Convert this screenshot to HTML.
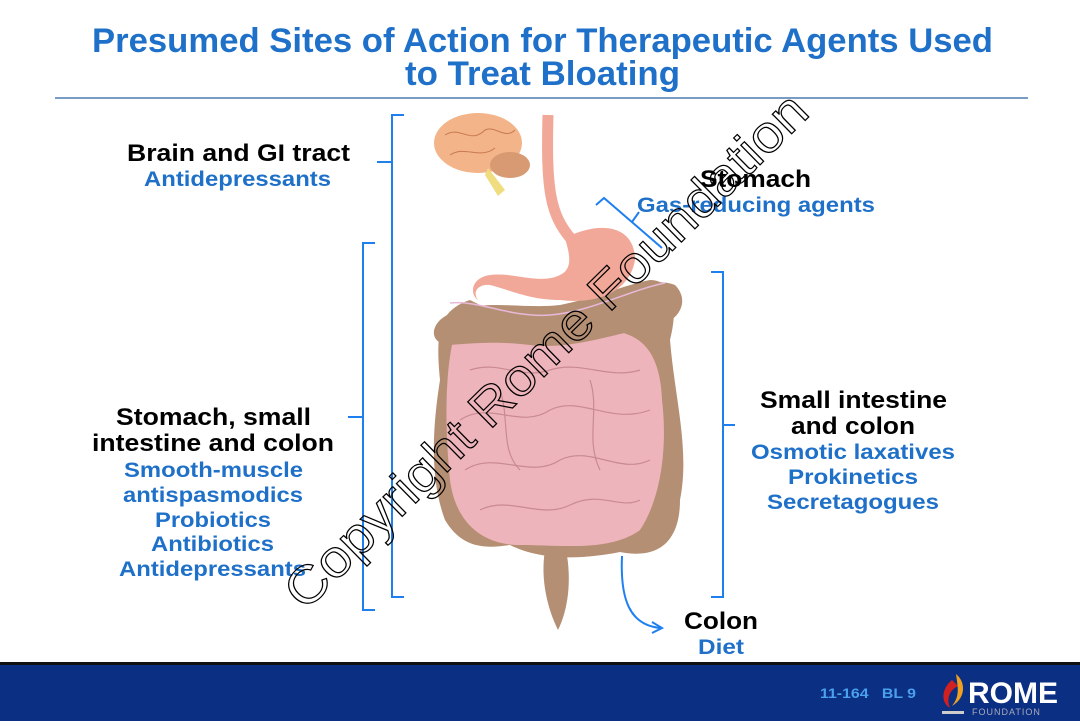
<!DOCTYPE html>
<html><head><meta charset="utf-8"><style>
body{margin:0;width:1080px;height:721px;overflow:hidden;background:#fff;font-family:"Liberation Sans",Arial,sans-serif;}
</style></head><body>
<svg width="1080" height="721" viewBox="0 0 1080 721" xmlns="http://www.w3.org/2000/svg" font-family="Liberation Sans, Arial, sans-serif" font-weight="bold">
<g lengthAdjust="spacingAndGlyphs">
<text x="92" y="52" font-size="34" fill="#1e70c8" textLength="901" lengthAdjust="spacingAndGlyphs">Presumed Sites of Action for Therapeutic Agents Used</text>
<text x="405" y="85" font-size="34" fill="#1e70c8" textLength="275" lengthAdjust="spacingAndGlyphs">to Treat Bloating</text>
</g>
<line x1="55" y1="98" x2="1028" y2="98" stroke="#2b5fa0" stroke-width="1.2"/>

<!-- esophagus -->
<path d="M548 115 C546 190 550 215 572 240" stroke="#f2a898" stroke-width="11" fill="none"/>
<!-- colon -->
<path d="M470 300 C440 310 435 330 440 380 C432 430 430 480 445 520 C460 545 480 550 510 545 C540 560 580 560 620 552 C660 560 680 540 680 500 C690 450 675 400 670 340 C680 300 670 280 650 280 C600 290 560 320 480 305 Z" fill="#b58f73"/>
<path d="M545 550 C540 580 548 610 558 630 C568 610 572 580 566 550 Z" fill="#b58f73"/>
<!-- small intestine -->
<path d="M452 345 C470 330 530 335 600 330 C640 330 660 350 662 400 C668 450 660 500 640 530 C610 552 560 545 520 545 C480 545 455 520 450 480 C445 430 445 380 452 345 Z" fill="#eeb4bb"/>
<g stroke="#c98a92" stroke-width="1.2" fill="none">
<path d="M470 370 C500 360 520 380 550 370 C580 360 610 380 640 370"/>
<path d="M460 420 C490 400 520 430 550 410 C580 395 610 425 650 410"/>
<path d="M465 470 C495 450 530 480 560 460 C590 445 620 475 650 460"/>
<path d="M480 510 C510 495 540 520 570 505 C600 490 620 510 640 500"/>
<path d="M500 390 C510 420 500 450 520 470"/><path d="M590 380 C600 410 585 440 600 470"/>
</g>
<!-- transverse colon -->
<path d="M440 320 C470 295 520 310 560 305 C610 295 650 275 675 285 C690 300 680 320 660 325 C610 335 570 350 530 345 C490 340 460 345 445 345 C430 340 432 328 440 320 Z" fill="#b58f73"/>
<path d="M450 303 C480 300 510 318 550 315 C590 312 630 290 665 283" stroke="#e8b8d8" stroke-width="1.5" fill="none"/>
<!-- stomach -->
<path d="M565 238 C600 220 635 225 635 260 C630 290 600 305 560 300 C530 300 510 290 490 285 C478 284 472 292 478 300 C470 295 470 278 490 275 C515 272 540 285 560 275 C575 268 568 250 565 238 Z" fill="#f2a898"/>
<!-- brain -->
<ellipse cx="478" cy="143" rx="44" ry="30" fill="#f2b488"/>
<ellipse cx="510" cy="165" rx="20" ry="13" fill="#d79a72"/>
<path d="M488 168 L505 190 L498 196 L485 175 Z" fill="#f0dd80"/>
<g stroke="#c87a50" stroke-width="1" fill="none"><path d="M445 135 C460 125 470 145 485 130 C495 125 505 140 515 130"/><path d="M450 155 C465 145 480 160 495 148"/></g>

<!-- brackets -->
<g stroke="#1e80f0" stroke-width="2" fill="none">
<path d="M404 115 H392 V597 H404 M392 162 H377"/>
<path d="M375 243 H363 V610 H375 M363 417 H348"/>
<path d="M711 272 H723 V597 H711 M723 425 H735"/>
<path d="M596 205 L604 198 L662 248 M632 222 L639 212"/>
<path d="M622 556 C620 600 630 625 660 628"/>
<path d="M652 622 L662 628 L652 633"/>
</g>

<!-- labels -->
<g font-size="24" fill="#000">
<text x="127" y="161" textLength="223" lengthAdjust="spacingAndGlyphs">Brain and GI tract</text>
<text x="700" y="187" textLength="111" lengthAdjust="spacingAndGlyphs">Stomach</text>
<text x="116" y="425" textLength="195" lengthAdjust="spacingAndGlyphs">Stomach, small</text>
<text x="92" y="451" textLength="242" lengthAdjust="spacingAndGlyphs">intestine and colon</text>
<text x="760" y="408" textLength="187" lengthAdjust="spacingAndGlyphs">Small intestine</text>
<text x="791" y="434" textLength="124" lengthAdjust="spacingAndGlyphs">and colon</text>
<text x="684" y="629" textLength="74" lengthAdjust="spacingAndGlyphs">Colon</text>
</g>
<g font-size="21" fill="#1e70c8">
<text x="144" y="186" textLength="187" lengthAdjust="spacingAndGlyphs">Antidepressants</text>
<text x="637" y="212" textLength="238" lengthAdjust="spacingAndGlyphs">Gas-reducing agents</text>
<text x="124" y="477" textLength="179" lengthAdjust="spacingAndGlyphs">Smooth-muscle</text>
<text x="123" y="502" textLength="180" lengthAdjust="spacingAndGlyphs">antispasmodics</text>
<text x="155" y="527" textLength="116" lengthAdjust="spacingAndGlyphs">Probiotics</text>
<text x="151" y="551" textLength="123" lengthAdjust="spacingAndGlyphs">Antibiotics</text>
<text x="119" y="576" textLength="187" lengthAdjust="spacingAndGlyphs">Antidepressants</text>
<text x="751" y="459" textLength="204" lengthAdjust="spacingAndGlyphs">Osmotic laxatives</text>
<text x="788" y="484" textLength="130" lengthAdjust="spacingAndGlyphs">Prokinetics</text>
<text x="767" y="509" textLength="172" lengthAdjust="spacingAndGlyphs">Secretagogues</text>
<text x="698" y="654" textLength="46" lengthAdjust="spacingAndGlyphs">Diet</text>
</g>

<!-- watermark -->
<text x="0" y="0" transform="translate(305,612) rotate(-44.5)" font-size="52" font-weight="normal" fill="none" stroke="#000" stroke-width="1.2" textLength="710" lengthAdjust="spacingAndGlyphs">Copyright Rome Foundation</text>

<!-- footer -->
<rect x="0" y="662" width="1080" height="59" fill="#0b2f82"/>
<rect x="0" y="662" width="1080" height="3" fill="#111"/>
<text x="820" y="698" font-size="14" fill="#4aa0ee" textLength="96" lengthAdjust="spacingAndGlyphs" xml:space="preserve">11-164   BL 9</text>
<path d="M952 680 C942 688 940 702 950 708 C946 698 950 690 958 686 Z" fill="#d02020"/>
<path d="M956 674 C966 682 966 698 952 706 C960 696 958 688 956 674 Z" fill="#f0a020"/>
<rect x="942" y="711" width="22" height="3" fill="#ccc"/>
<text x="968" y="703" font-size="30" fill="#fff" font-weight="bold">ROME</text>
<text x="972" y="715" font-size="9" fill="#aab" font-weight="normal" letter-spacing="1">FOUNDATION</text>
</svg>
</body></html>
